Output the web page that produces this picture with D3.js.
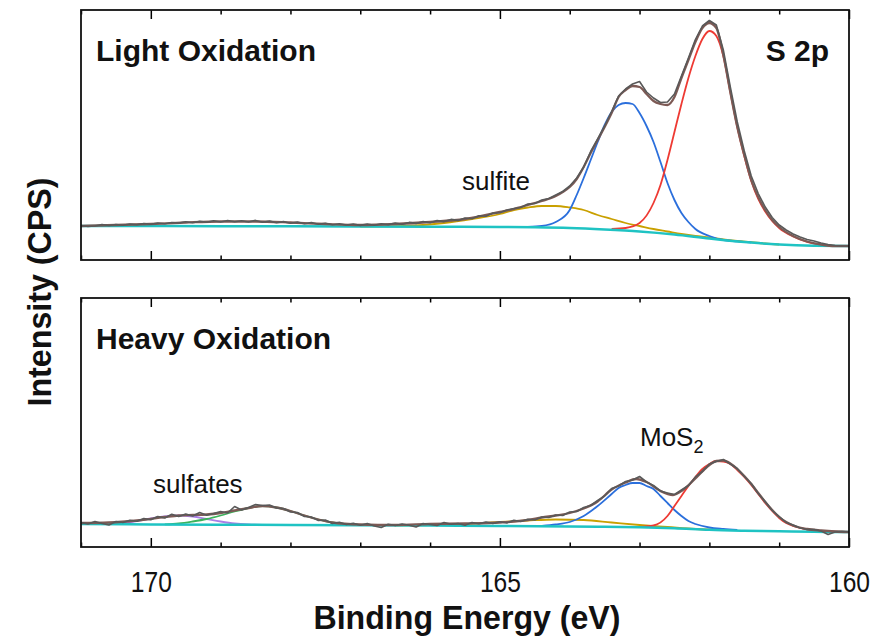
<!DOCTYPE html>
<html><head><meta charset="utf-8">
<script src="https://cdn.jsdelivr.net/npm/d3@7"></script>
<style>
html,body{margin:0;padding:0;background:#fff;}
svg{display:block;}
</style></head>
<body>
<svg id="chart" width="885" height="638"></svg>
<script>
// ---------- DATA (binding energy eV, intensity a.u.) ----------
const xTicksMajor = [170, 165, 160];
const xTicksMinor = [171, 169, 168, 167, 166, 164, 163, 162, 161];
const panelTitles = ["Light Oxidation", "Heavy Oxidation"];

// Light oxidation
const topRaw = [[171.0,34.5],[170.9,33.5],[170.8,34.0],[170.7,35.5],[170.6,34.5],[170.5,35.5],[170.4,34.8],[170.3,36.0],[170.2,35.2],[170.1,36.5],
[170.0,35.8],[169.9,37.0],[169.8,36.2],[169.7,37.5],[169.6,37.0],[169.5,38.2],[169.4,37.3],[169.3,38.6],[169.2,37.8],[169.1,39.2],
[169.0,38.0],[168.9,39.5],[168.8,38.2],[168.7,39.3],[168.6,38.0],[168.5,39.6],[168.4,37.8],[168.3,38.9],[168.2,37.2],[168.1,38.4],
[168.0,36.8],[167.9,37.9],[167.8,36.2],[167.7,37.4],[167.6,35.8],[167.5,36.7],[167.4,35.2],[167.3,36.2],[167.2,35.0],[167.1,36.0],
[167.0,34.6],[166.9,35.9],[166.8,34.8],[166.7,36.3],[166.6,35.4],[166.5,36.9],[166.4,35.8],[166.3,37.6],[166.2,36.6],[166.1,38.4],
[166.0,37.3],[165.9,39.5],[165.8,38.4],[165.7,40.6],[165.6,39.6],[165.5,42.0],[165.4,41.2],[165.3,44.2],[165.2,43.8],[165.1,47.0],
[165.0,47.2],[164.9,50.0],[164.8,51.5],[164.7,52.5],[164.6,56.0],[164.5,56.5],[164.4,60.0],[164.3,61.5],[164.2,65.0],[164.1,68.5],
[164.0,74.0],[163.9,82.0],[163.8,93.0],[163.7,108.5],[163.6,121.0],[163.5,134.0],[163.4,148.5],[163.3,164.0],[163.2,171.0],[163.1,176.0],
[163.0,178.5],[162.9,168.0],[162.8,162.0],[162.7,157.5],[162.6,158.0],[162.5,166.0],[162.4,184.0],[162.3,202.0],[162.2,220.5],[162.1,234.0],
[162.0,239.5],[161.9,235.0],[161.8,210.0],[161.7,173.0],[161.6,138.0],[161.5,109.0],[161.4,84.0],[161.3,66.5],[161.2,53.0],[161.1,42.5],
[161.0,35.0],[160.9,30.0],[160.8,26.0],[160.7,23.0],[160.6,20.5],[160.5,19.0],[160.4,17.0],[160.3,15.5],[160.2,14.5],[160.1,14.0],[160.0,14.0]];
const topEnv = [[171,34],[170.5,35],[170,36],[169.5,37.5],[169,38.5],[168.5,38.5],[168,37.5],[167.5,36],[167,35],[166.5,36],[166,38],[165.5,41],
[165,48],[164.8,51],[164.7,53],[164.6,55],[164.4,59],[164.2,64],[164.1,68],[164,73],[163.9,81],[163.8,93],[163.7,107],[163.6,120],[163.5,133],
[163.4,147],[163.3,163],[163.2,170],[163.1,174],[163,173],[162.9,166],[162.8,159],[162.7,156],[162.6,155],[162.5,163],[162.4,182],[162.3,200],
[162.2,218],[162.1,232],[162,237],[161.9,232],[161.8,205],[161.7,168],[161.6,133],[161.5,105],[161.4,80],[161.3,63],[161.2,50],[161.1,40],
[161,33],[160.8,24],[160.6,18.5],[160.4,15.5],[160.2,14],[160,14]];
const topBg = [[171,34],[170,34],[169,33.8],[168,33.7],[167,33.5],[166,33.3],[165,33],[164.5,32.7],[164,32],[163.5,30.5],[163,28.5],
[162.5,25.5],[162,21.5],[161.5,18],[161,15.5],[160.5,14.3],[160,14]];
const topRed = [[163.4,31],[163.2,32],[163,37],[162.8,57],[162.7,75],[162.6,100],[162.5,128],[162.4,156],[162.3,182],[162.2,204],[162.1,221],
[162,229],[161.9,224],[161.8,204],[161.7,168],[161.6,133],[161.5,104],[161.4,79],[161.3,61],[161.2,48.5],[161.1,39],[161,32],[160.8,23.5],
[160.6,18],[160.4,15],[160.2,14],[160,14]];
const topBlue = [[164.6,33],[164.4,34],[164.2,38],[164,50],[163.9,65],[163.8,82],[163.7,100],[163.6,118],[163.5,135],[163.4,148],[163.3,155],
[163.2,157],[163.1,156],[163,147],[162.9,134],[162.8,118],[162.7,98],[162.6,77],[162.5,60],[162.4,47],[162.3,38],[162.2,31],[162,24],
[161.8,20],[161.6,18.7],[161.4,17.5]];
const topSulfite = [[167,33.5],[166.6,33.7],[166.2,34.5],[165.8,37],[165.4,41],[165,46],[164.8,50],[164.6,52.5],[164.4,54],[164.2,54],[164,52.5],
[163.8,50],[163.6,45],[163.4,41],[163.2,37],[163,34],[162.8,31],[162.6,28.5],[162.4,26],[162.2,24],[162,22.5],[161.8,20.5],[161.6,19],
[161.4,17.8],[161.2,16.5],[161,15.5]];

// Heavy oxidation
const botRaw = [[171.0,24.5],[170.9,23.0],[170.8,25.5],[170.7,23.5],[170.6,22.0],[170.5,25.5],[170.4,24.5],[170.3,26.8],[170.2,25.8],[170.1,28.5],
[170.0,27.2],[169.9,30.5],[169.8,29.0],[169.7,32.8],[169.6,30.5],[169.5,33.0],[169.4,31.0],[169.3,34.5],[169.2,31.8],[169.1,33.5],
[169.0,35.5],[168.9,34.0],[168.8,40.5],[168.7,37.0],[168.6,39.5],[168.5,42.5],[168.4,41.5],[168.3,42.0],[168.2,39.0],[168.1,38.5],
[168.0,35.0],[167.9,34.5],[167.8,30.5],[167.7,30.0],[167.6,26.5],[167.5,27.0],[167.4,23.5],[167.3,24.8],[167.2,22.5],[167.1,23.8],
[167.0,21.8],[166.9,23.5],[166.8,21.0],[166.7,19.5],[166.6,22.8],[166.5,21.5],[166.4,23.0],[166.3,21.8],[166.2,20.0],[166.1,23.5],
[166.0,22.5],[165.9,21.5],[165.8,24.5],[165.7,22.8],[165.6,23.5],[165.5,21.8],[165.4,24.5],[165.3,23.2],[165.2,25.0],[165.1,23.6],
[165.0,25.2],[164.9,24.0],[164.8,26.8],[164.7,25.5],[164.6,27.8],[164.5,27.0],[164.4,30.0],[164.3,29.5],[164.2,32.0],[164.1,31.5],
[164.0,35.0],[163.9,35.5],[163.8,39.5],[163.7,41.5],[163.6,46.5],[163.5,51.0],[163.4,58.5],[163.3,61.0],[163.2,65.5],[163.1,67.0],
[163.0,70.5],[162.9,65.0],[162.8,61.5],[162.7,56.0],[162.6,54.0],[162.5,52.5],[162.4,57.0],[162.3,61.5],[162.2,70.0],[162.1,75.5],
[162.0,83.0],[161.9,85.5],[161.8,87.5],[161.7,83.0],[161.6,78.5],[161.5,70.5],[161.4,63.5],[161.3,53.5],[161.2,45.5],[161.1,36.5],
[161.0,30.5],[160.9,24.5],[160.8,22.0],[160.7,19.0],[160.6,17.5],[160.5,17.5],[160.4,16.0],[160.3,12.5],[160.2,15.0],[160.1,15.5],[160.0,15.0]];
const botEnv = [[171,24],[170.6,24.5],[170.2,26.5],[169.8,30],[169.6,31.5],[169.4,32],[169.2,32.5],[169,34],[168.8,36.5],[168.6,39],[168.4,41],
[168.2,39.5],[168,36],[167.8,31.5],[167.6,27.5],[167.4,24.5],[167,22.5],[166.5,22],[166,23],[165.5,23.5],[165,24.5],[164.6,27],[164.4,29.5],
[164.2,31.5],[164,34],[163.8,38.5],[163.6,45.5],[163.4,57.5],[163.2,64.5],[163.05,68],[162.9,65],[162.7,56],[162.52,52],[162.38,57],
[162.2,68.5],[162.05,79],[161.9,86],[161.8,86.5],[161.7,83.5],[161.6,78],[161.5,71],[161.4,63],[161.3,54],[161.2,45],[161.1,37],[161,30],
[160.9,25],[160.8,21.5],[160.6,18],[160.4,16.5],[160.2,15.5],[160,15]];
const botBg = [[171,23],[170,22.5],[169,22.3],[168,22],[167,21.8],[166,21.5],[165,21],[164,20.5],[163.5,20.2],[163,19.8],[162.5,18.8],
[162,17.2],[161.5,16.3],[161,15.7],[160.5,15.2],[160,15]];
const botRed = [[163,20],[162.8,21.5],[162.6,31],[162.5,41],[162.4,51],[162.3,61],[162.2,70],[162.1,78],[162,83],[161.9,86],[161.8,85.5],
[161.7,83],[161.6,77],[161.5,70],[161.4,62],[161.3,53],[161.2,44],[161.1,36],[161,29],[160.9,24],[160.8,21],[160.6,17.5],[160.4,16],[160,15]];
const botBlue = [[164.4,21],[164.2,22.5],[164,25],[163.8,31],[163.6,41],[163.4,53],[163.3,59],[163.2,62],[163.1,64],[163,64],[162.9,61],
[162.8,58],[162.7,51],[162.6,44],[162.5,37],[162.4,31],[162.3,26],[162.2,23],[162,19.5],[161.8,18],[161.6,17]];
const botSulfite = [[166.5,21.7],[166,21.8],[165.5,23],[165,25],[164.6,26.5],[164.2,27.5],[163.8,27],[163.4,24.5],[163,22],[162.6,20],
[162.2,18],[161.8,17]];
const botSulfateA = [[170.6,23],[170.4,24],[170.2,26],[170,28.5],[169.8,30.5],[169.6,31.5],[169.4,30.5],[169.2,28],[169,25.5],[168.8,23.5],
[168.6,22.5],[168.4,22.1]];
const botSulfateB = [[169.8,22.6],[169.6,23.5],[169.4,25.5],[169.2,28],[169,31.5],[168.8,35.5],[168.6,39],[168.4,41],[168.2,39.5],[168,36],
[167.8,31.5],[167.6,27.5],[167.4,24.5],[167.2,22.5],[167,22]];

// ---------- DRAWING ----------
const svg = d3.select("#chart");
const FONT = "'Liberation Sans', Arial, Helvetica, sans-serif";

const x = d3.scaleLinear().domain([171, 160]).range([81, 849]);

const panels = [
  {top: 10, bottom: 260, ymax: 250, title: panelTitles[0],
   comps: [[topSulfite,"#c9a000",1.8],[topBlue,"#2b6fdc",1.8],[topRed,"#ee3a33",1.8],[topBg,"#1fc3c3",2.5]],
   env: topEnv, raw: topRaw},
  {top: 298, bottom: 547, ymax: 249, title: panelTitles[1],
   comps: [[botSulfite,"#c9a000",1.8],[botBlue,"#2b6fdc",1.8],[botRed,"#ee3a33",1.8],[botSulfateA,"#a97fe6",1.8],[botSulfateB,"#3cb35c",1.8],[botBg,"#1fc3c3",2.5]],
   env: botEnv, raw: botRaw}
];

panels.forEach((p, i) => {
  const y = d3.scaleLinear().domain([0, p.ymax]).range([p.bottom, p.top]);
  const g = svg.append("g");
  const smooth = d3.line().x(d => x(d[0])).y(d => y(d[1])).curve(d3.curveMonotoneX);
  const jag = d3.line().x(d => x(d[0])).y(d => y(d[1]));

  p.comps.forEach(([data, color, w]) => {
    g.append("path").attr("d", smooth(data)).attr("fill","none")
      .attr("stroke", color).attr("stroke-width", w);
  });
  g.append("path").attr("d", smooth(p.env)).attr("fill","none")
    .attr("stroke","#7d5a55").attr("stroke-width",2.3);
  g.append("path").attr("d", jag(p.raw)).attr("fill","none")
    .attr("stroke","#595959").attr("stroke-width",1.6).attr("stroke-linejoin","round");

  const mk = (axisFn, ty, vals, size) => {
    const a = g.append("g").attr("transform", `translate(0,${ty})`)
      .call(axisFn(x).tickValues(vals).tickSize(size).tickFormat(""));
    a.select(".domain").remove();
    a.selectAll("line").attr("stroke","#000").attr("stroke-width",1.5);
  };
  mk(d3.axisBottom, p.bottom, xTicksMinor, -4.5);
  mk(d3.axisTop, p.top, xTicksMinor, -4.5);
  mk(d3.axisTop, p.top, xTicksMajor, -9);
  if (i === 0) {
    mk(d3.axisBottom, p.bottom, xTicksMajor, -9);
  } else {
    const a = g.append("g").attr("transform", `translate(0,${p.bottom})`)
      .call(d3.axisBottom(x).tickValues(xTicksMajor).tickSize(-9).tickPadding(24).tickFormat(d3.format("d")));
    a.select(".domain").remove();
    a.selectAll("line").attr("stroke","#000").attr("stroke-width",1.5);
    a.selectAll("text").attr("font-family", FONT).attr("font-size", 30).attr("fill","#111")
      .attr("textLength", 41).attr("lengthAdjust", "spacingAndGlyphs");
  }

  g.append("rect").attr("x", 81).attr("y", p.top).attr("width", 768).attr("height", p.bottom - p.top)
    .attr("fill","none").attr("stroke","#111").attr("stroke-width",1.8);

  g.append("text").attr("x", 96).attr("y", p.top + 51).text(p.title)
    .attr("font-family", FONT).attr("font-weight","bold").attr("font-size",30).attr("fill","#111");
});

// annotations
svg.append("text").attr("x", 829).attr("y", 61).attr("text-anchor","end").text("S 2p")
  .attr("font-family", FONT).attr("font-weight","bold").attr("font-size",30).attr("fill","#111");
svg.append("text").attr("x", 462).attr("y", 190).text("sulfite")
  .attr("font-family", FONT).attr("font-size",26).attr("fill","#111");
svg.append("text").attr("x", 153).attr("y", 493).text("sulfates")
  .attr("font-family", FONT).attr("font-size",26).attr("fill","#111");
const mos = svg.append("text").attr("x", 640).attr("y", 446)
  .attr("font-family", FONT).attr("font-size",26).attr("fill","#111");
mos.append("tspan").text("MoS");
mos.append("tspan").text("2").attr("font-size",18).attr("dy",7);

// axis titles
svg.append("text").attr("x", 467).attr("y", 629).attr("text-anchor","middle").text("Binding Energy (eV)")
  .attr("font-family", FONT).attr("font-weight","bold").attr("font-size",34).attr("fill","#111")
  .attr("textLength", 307).attr("lengthAdjust","spacingAndGlyphs");
svg.append("text").attr("transform","translate(51,292) rotate(-90)").attr("text-anchor","middle").text("Intensity (CPS)")
  .attr("font-family", FONT).attr("font-weight","bold").attr("font-size",33).attr("fill","#111")
  .attr("textLength", 229).attr("lengthAdjust","spacingAndGlyphs");
</script>
</body></html>
